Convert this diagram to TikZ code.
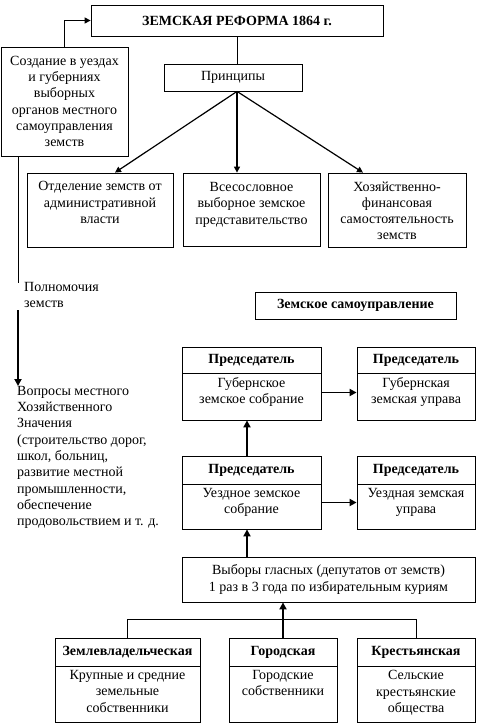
\documentclass[tikz,border=0pt]{standalone}
\usepackage{fontspec}
\setmainfont{Liberation Serif}
\usetikzlibrary{arrows.meta}
\newcommand{\tbx}[4]{\parbox[c][#2pt][t]{#1pt}{\centering\vspace*{#3pt}#4\par}}
\newcommand{\cbx}[3]{\parbox[c][#2pt][c]{#1pt}{\centering #3\par}}
\begin{document}
\begin{tikzpicture}[x=1pt,y=-1pt, font=\fontsize{14}{16.3}\selectfont,
 box/.style={draw, line width=0.8pt, inner sep=0pt},
 arr/.style={-{Triangle[length=6pt,width=6pt]}, line width=1.2pt},
 tarr/.style={-{Triangle[length=7pt,width=7pt]}, line width=1.8pt},
 ln/.style={line width=0.8pt},
 plain/.style={anchor=north west, inner sep=0pt, align=left}]

\useasboundingbox (0,0) rectangle (482,725);
\fill[white] (0,0) rectangle (482,725);

\node[box] (title) at (237,20.5) {\cbx{292}{31}{\bfseries ЗЕМСКАЯ РЕФОРМА 1864 г.}};
\node[box] (left) at (64.5,101.5) {\cbx{127}{109}{Создание в уездах\\и губерниях\\выборных\\органов местного\\самоуправления\\земств}};
\node[box] (princ) at (233,77.5) {\cbx{138}{27}{Принципы}};
\node[box] (b1) at (100,210) {\tbx{146}{74}{8.5}{Отделение земств от\\административной\\власти}};
\node[box] (b2) at (251.5,209.5) {\tbx{137}{73}{9.5}{Всесословное\\выборное земское\\представительство}};
\node[box] (b3) at (397,210) {\tbx{138}{74}{8.5}{Хозяйственно-\\финансовая\\самостоятельность\\земств}};
\node[box] (zs) at (355.5,305.5) {\cbx{201}{27}{\bfseries Земское самоуправление}};

\node[box] (gsh) at (251.5,360) {\cbx{139}{26}{\bfseries Председатель}};
\node[box] (gsb) at (251.5,396.5) {\tbx{139}{47}{4.5}{Губернское\\земское собрание}};
\node[box] (guh) at (416,360) {\cbx{118}{26}{\bfseries Председатель}};
\node[box] (gub) at (416,396.5) {\tbx{118}{47}{4.5}{Губернская\\земская управа}};

\node[box] (ush) at (251.5,470) {\cbx{139}{28}{\bfseries Председатель}};
\node[box] (usb) at (251.5,506.5) {\tbx{139}{45}{4.5}{Уездное земское\\собрание}};
\node[box] (uuh) at (416,470) {\cbx{118}{28}{\bfseries Председатель}};
\node[box] (uub) at (416,506.5) {\tbx{118}{45}{4.5}{Уездная земская\\управа}};

\node[box] (vy) at (328.5,579.5) {\cbx{293}{45}{Выборы гласных (депутатов от земств)\\1 раз в 3 года по избирательным куриям}};

\node[box] (k1h) at (127.5,652) {\cbx{145}{28}{\bfseries Землевладельческая}};
\node[box] (k1b) at (127.5,694) {\tbx{145}{56}{4.5}{Крупные и средние\\земельные\\собственники}};
\node[box] (k2h) at (283,652) {\cbx{108}{28}{\bfseries Городская}};
\node[box] (k2b) at (283,694) {\tbx{108}{56}{4.5}{Городские\\собственники}};
\node[box] (k3h) at (416,652) {\cbx{118}{28}{\bfseries Крестьянская}};
\node[box] (k3b) at (416,694) {\tbx{118}{56}{4.5}{Сельские\\крестьянские\\общества}};

\node[plain] (pol) at (24,282) {Полномочия\\земств};
\node[plain] (vop) at (17,386) {Вопросы местного\\Хозяйственного\\Значения\\(строительство дорог,\\школ, больниц,\\развитие местной\\промышленности,\\обеспечение\\продовольствием и т. д.};

% connectors
\draw[arr] (left.north) |- (title.west);
\draw[ln] (title.south) -- (title.south |- princ.north);
\coordinate (p0) at (title.south |- princ.south);
\draw[arr] (p0) -- ([xshift=15pt]b1.north);
\draw[arr] (p0) -- (p0 |- b2.north);
\draw[arr] (p0) -- ([xshift=-34pt]b3.north);

\coordinate (l1) at (18,156);
\coordinate (l2) at (18,283);
\coordinate (l3) at (18,310);
\draw[ln] (l1) -- (l2);
\draw[tarr] (l3) -- (l3 |- vop.north);

\draw[tarr] ([yshift=4pt]gsb.east) -- ([yshift=4pt]gsb.east -| gub.west);
\draw[tarr] ([yshift=4pt]usb.east) -- ([yshift=4pt]usb.east -| uub.west);
\draw[tarr] ([xshift=-4.5pt]ush.north) -- ([xshift=-4.5pt]ush.north |- gsb.south);
\draw[tarr] ([xshift=-4.5pt]usb.south |- vy.north) -- ([xshift=-4.5pt]usb.south);
\draw[tarr] (k2h.north) -- (k2h.north |- vy.south);
\draw[ln] (k1h.north) -- ++(0,-18) -| (k3h.north);
\end{tikzpicture}
\end{document}
